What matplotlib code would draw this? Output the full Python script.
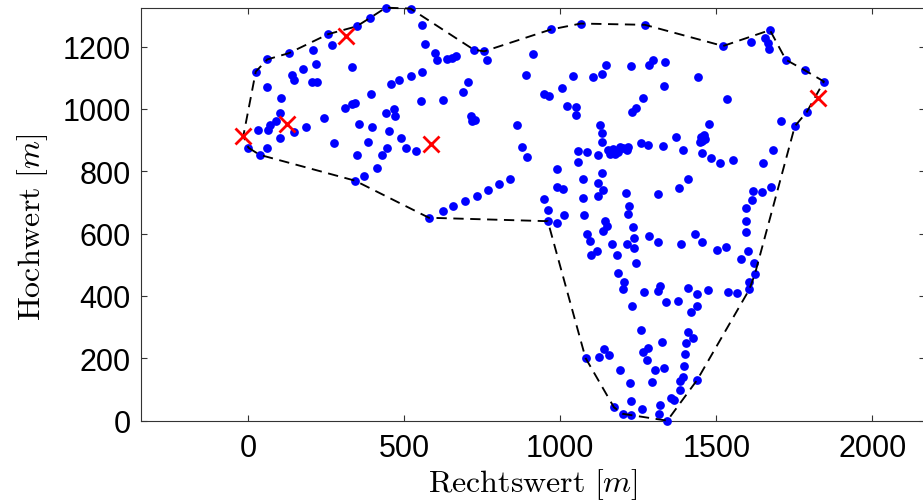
import matplotlib
matplotlib.use("Agg")
import matplotlib.pyplot as plt

plt.rcParams["mathtext.fontset"] = "cm"
plt.rcParams["font.family"] = ["Liberation Sans", "DejaVu Sans"]

# Measurement locations (easting / northing in metres)
pts_x = [
    441, 520, 390, 347, 256, 267, 208, 217, 130, 61, 24, 61, 141, 147, 176, 203, 219, 333,
    105, 102, 88, 70, 64, 32, 0, 36, 61, 102, 147, 184, 244, 276, 310, 331, 342, 394, 456,
    484, 520, 556, 554, 625, 441, 467, 470, 356, 396, 452, 488, 443, 429, 383, 347, 413,
    505, 536, 371, 342, 556, 568, 598, 606, 636, 652, 666, 579, 623, 657,
    970, 1066, 1271, 1522, 1611, 1656, 1672, 1665, 1670, 723, 756, 764, 913, 705, 689,
    714, 727, 716, 890, 949, 963, 1006, 1042, 1106, 1135, 1147, 1227, 1284, 1296, 1336,
    1333, 1440, 1533, 1264, 1242, 1229, 1020, 1049, 1049, 860, 877, 892, 839, 804, 767,
    732, 695, 1127, 1135, 1133,
    1154, 1170, 1186, 1202, 1213, 1218, 1159, 1191, 1175,
    1258, 1280, 1330, 1371, 1392,
    1450, 1460, 1455, 1465, 1448,
    1478, 1453, 1483, 1512, 1554, 1649, 1683, 1706, 1058, 1085, 1120, 1056, 988, 1133,
    1072, 1122, 1136, 1120, 1074, 988, 1010, 949, 962, 1211, 1221, 1312, 1380, 1410, 1619,
    1647, 1674, 1613, 1595,
    1723, 1784, 1845, 1790, 1752,
    960, 988, 1013, 1077, 1216, 1143, 1149, 1138, 1232, 1237, 1213, 1236, 1243, 1087, 1095,
    1117, 1098, 1167, 1181, 1284, 1314, 1386, 1432, 1453, 1503, 1530, 1184, 1204, 1200,
    1269, 1314, 1320, 1229, 1339, 1378, 1410, 1437, 1437, 1418, 1474, 1537, 1565, 1605,
    1606, 1624, 1621, 1601, 1578, 1595, 1595,
    1258, 1327, 1280, 1266, 1279, 1303, 1332, 1293, 1223, 1193, 1140, 1157, 1124, 1081,
    1410, 1426, 1403, 1400, 1397, 1392, 1384, 1439, 1384, 1354, 1364, 1320, 1317, 1343,
    1261, 1227, 1227, 1200, 1172,
]
pts_y = [
    1325, 1322, 1292, 1265, 1240, 1204, 1190, 1145, 1179, 1159, 1120, 1071, 1108, 1094,
    1129, 1086, 1088, 1134, 1036, 987, 961, 950, 933, 934, 876, 853, 874, 907, 926, 943,
    972, 891, 1004, 1017, 1020, 1047, 1079, 1094, 1106, 1120, 1024, 1030, 987, 1001, 976,
    952, 942, 929, 907, 874, 851, 894, 851, 810, 875, 865, 785, 770, 1270, 1207, 1179,
    1158, 1161, 1165, 1169, 651, 672, 688,
    1255, 1274, 1270, 1202, 1215, 1229, 1253, 1212, 1193, 1190, 1185, 1156, 1177, 1088,
    1054, 979, 966, 960, 1110, 1047, 1041, 1068, 1106, 1104, 1112, 1140, 1138, 1140, 1158,
    1151, 1074, 1101, 1032, 1035, 1003, 990, 1011, 1006, 982, 947, 878, 846, 774, 758, 740,
    722, 705, 947, 923, 894,
    867, 872, 862, 874, 867, 878, 856, 878, 856,
    890, 883, 880, 910, 867,
    910, 915, 898, 903, 895,
    952, 859, 842, 826, 835, 827, 867, 961, 864, 862, 851, 831, 806, 794,
    774, 762, 741, 722, 714, 749, 744, 712, 676, 731, 690, 728, 747, 774, 736,
    735, 751, 707, 682,
    1158, 1124, 1088, 990, 945,
    640, 635, 660, 660, 664, 639, 623, 610, 621, 586, 567, 554, 505, 599, 575,
    543, 532, 567, 530, 591, 573, 567, 599, 573, 546, 557, 473, 446, 421,
    412, 417, 431, 369, 382, 383, 426, 405, 369, 350, 420, 412, 409, 421,
    444, 471, 506, 543, 519, 605, 639,
    292, 254, 232, 219, 195, 164, 168, 125, 121, 161, 230, 211, 204, 201,
    286, 265, 248, 214, 177, 139, 128, 131, 99, 72, 66, 50, 22, 0,
    38, 64, 18, 22, 43,
]

# Reference stations
ref_x = [-16, 125, 312, 586, 1827]
ref_y = [913, 952, 1234, 888, 1036]

# Outline of the measurement area (closed polygon)
hull_x = [0, 36, 342, 579, 960, 1081, 1172, 1200, 1343, 1439, 1606, 1624, 1752, 1790,
          1845, 1784, 1723, 1672, 1522, 1271, 1066, 970, 756, 723, 520, 441, 390, 347,
          256, 130, 61, 24, -16, 0]
hull_y = [876, 853, 770, 651, 640, 201, 43, 22, 0, 131, 421, 471, 945, 990,
          1088, 1124, 1158, 1253, 1202, 1270, 1274, 1255, 1185, 1190, 1322, 1325, 1292,
          1265, 1240, 1179, 1159, 1120, 913, 876]

x_ticks = [0, 500, 1000, 1500, 2000]
y_ticks = [0, 200, 400, 600, 800, 1000, 1200]

fig = plt.figure(figsize=(9.23, 5.02), dpi=100)
ax = fig.add_axes([0.1524, 0.160, 0.8494, 0.8215])

ax.plot(pts_x, pts_y, "o", color="#0000ff", ms=6.3, mew=0, clip_on=False, zorder=3)
ax.plot(hull_x, hull_y, "--", color="black", lw=1.35, dashes=(5.5, 3.5),
        clip_on=False, zorder=4)
ax.plot(ref_x, ref_y, "x", color="#ff0000", ms=11, mew=2, clip_on=False, zorder=5)

ax.set_xlim(-345, 2168)
ax.set_ylim(0, 1323)
ax.set_xticks(x_ticks)
ax.set_yticks(y_ticks)
ax.tick_params(direction="in", length=4, width=0.8, color="#333333",
               top=True, right=True, labelsize=22, pad=7)
ax.tick_params(axis="x", pad=9)
for s in ax.spines.values():
    s.set_color("#333333")
    s.set_linewidth(0.8)

ax.set_xlabel(r"$\mathrm{Rechtswert}\ [m]$", fontsize=23, labelpad=2)
ax.set_ylabel(r"$\mathrm{Hochwert}\ [m]$", fontsize=23)
ax.yaxis.set_label_coords(-0.116, 0.47)

fig.savefig("out.png", dpi=100)
